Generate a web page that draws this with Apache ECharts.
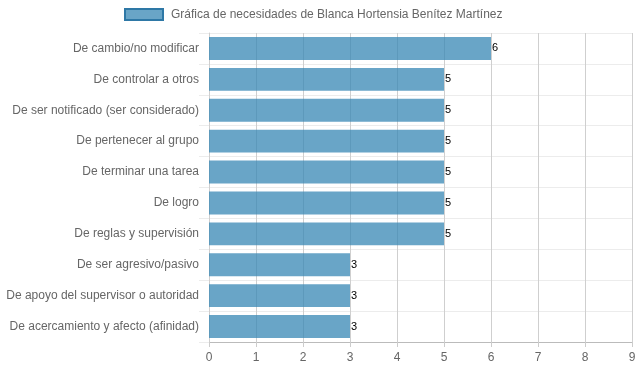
<!DOCTYPE html>
<html><head><meta charset="utf-8">
<script src="https://cdn.jsdelivr.net/npm/echarts@6/dist/echarts.min.js"></script>
<style>html,body{margin:0;padding:0;background:#fff}#c{width:639px;height:372px}</style>
</head><body><div id="c"></div>
<script>
const categories = [
  "De cambio/no modificar",
  "De controlar a otros",
  "De ser notificado (ser considerado)",
  "De pertenecer al grupo",
  "De terminar una tarea",
  "De logro",
  "De reglas y supervisión",
  "De ser agresivo/pasivo",
  "De apoyo del supervisor o autoridad",
  "De acercamiento y afecto (afinidad)"
];
const values = [6, 5, 5, 5, 5, 5, 5, 3, 3, 3];
const seriesName = "Gráfica de necesidades de Blanca Hortensia Benítez Martínez";
const xTicks = [0, 1, 2, 3, 4, 5, 6, 7, 8, 9];

const chart = echarts.init(document.getElementById('c'));
const font = '"Liberation Sans", Arial, sans-serif';
chart.setOption({
  animation: false,
  textStyle: { fontFamily: font },
  legend: {
    top: 3, left: 119, icon: 'rect',
    itemWidth: 38, itemHeight: 11, itemGap: 8,
    textStyle: { fontSize: 12, color: '#666', fontFamily: font, padding: [0, 0, 0, 3] },
    data: [{ name: seriesName, itemStyle: { color: 'rgba(55,135,180,0.75)', borderColor: '#2e78a6', borderWidth: 2 } }]
  },
  grid: { left: 209, right: 7, top: 33, bottom: 30, containLabel: false },
  xAxis: {
    type: 'value', min: xTicks[0], max: xTicks[xTicks.length - 1], interval: 1,
    axisLine: { show: true, lineStyle: { color: '#bbb' } },
    axisTick: { show: true, length: 5, lineStyle: { color: '#ccc' } },
    axisLabel: { color: '#666', fontSize: 12, margin: 10 },
    splitLine: { show: true, lineStyle: { color: '#cfcfcf' } }
  },
  yAxis: {
    type: 'category', inverse: true, data: categories,
    axisLine: { show: true, lineStyle: { color: '#cfcfcf' } },
    axisTick: { show: true, length: 10, lineStyle: { color: '#ececec' } },
    axisLabel: { color: '#666', fontSize: 12, margin: 10 },
    splitLine: { show: true, lineStyle: { color: '#ececec' } }
  },
  series: [{
    name: seriesName, type: 'bar', data: values,
    barWidth: '74%',
    itemStyle: { color: 'rgba(55,135,180,0.75)' },
    label: { show: true, position: 'right', distance: 1, color: '#000', fontSize: 11, fontFamily: font }
  }]
});
</script></body></html>
